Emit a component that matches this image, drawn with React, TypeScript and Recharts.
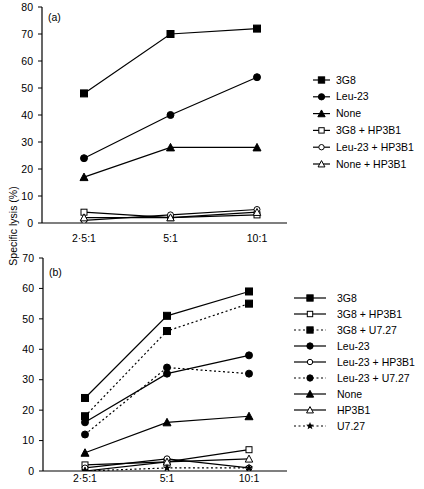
import React from 'react';
import { LineChart, Line, XAxis, YAxis } from 'recharts';

const categories = ['2·5:1', '5:1', '10:1'];

// panel (a)
const a3G8 = [48, 70, 72];
const aLeu23 = [24, 40, 54];
const aNone = [17, 28, 28];
const a3G8HP = [4, 2, 3];
const aLeu23HP = [1, 3, 5];
const aNoneHP = [2, 2, 4];
const ticksA = [0, 10, 20, 30, 40, 50, 60, 70, 80];

// panel (b)
const b3G8 = [24, 51, 59];
const b3G8HP = [2, 3, 7];
const b3G8U7 = [18, 46, 55];
const bLeu23 = [16, 32, 38];
const bLeu23HP = [1, 4, 1];
const bLeu23U7 = [12, 34, 32];
const bNone = [6, 16, 18];
const bHP = [0, 3, 4];
const bU7 = [0, 1, 1];
const ticksB = [0, 10, 20, 30, 40, 50, 60, 70];

type Shape = 'square' | 'circle' | 'triangle' | 'star';
type Series = { key: string; label: string; values: number[]; shape: Shape; filled: boolean; dashed?: boolean };

const seriesA: Series[] = [
  { key: 's1', label: '3G8', values: a3G8, shape: 'square', filled: true },
  { key: 's2', label: 'Leu-23', values: aLeu23, shape: 'circle', filled: true },
  { key: 's3', label: 'None', values: aNone, shape: 'triangle', filled: true },
  { key: 's4', label: '3G8 + HP3B1', values: a3G8HP, shape: 'square', filled: false },
  { key: 's5', label: 'Leu-23 + HP3B1', values: aLeu23HP, shape: 'circle', filled: false },
  { key: 's6', label: 'None + HP3B1', values: aNoneHP, shape: 'triangle', filled: false },
];

const seriesB: Series[] = [
  { key: 's1', label: '3G8', values: b3G8, shape: 'square', filled: true },
  { key: 's2', label: '3G8 + HP3B1', values: b3G8HP, shape: 'square', filled: false },
  { key: 's3', label: '3G8 + U7.27', values: b3G8U7, shape: 'square', filled: true, dashed: true },
  { key: 's4', label: 'Leu-23', values: bLeu23, shape: 'circle', filled: true },
  { key: 's5', label: 'Leu-23 + HP3B1', values: bLeu23HP, shape: 'circle', filled: false },
  { key: 's6', label: 'Leu-23 + U7.27', values: bLeu23U7, shape: 'circle', filled: true, dashed: true },
  { key: 's7', label: 'None', values: bNone, shape: 'triangle', filled: true },
  { key: 's8', label: 'HP3B1', values: bHP, shape: 'triangle', filled: false },
  { key: 's9', label: 'U7.27', values: bU7, shape: 'star', filled: true, dashed: true },
];

const toRows = (series: Series[]) =>
  categories.map((name, i) => {
    const row: Record<string, any> = { name };
    series.forEach((s) => (row[s.key] = s.values[i]));
    return row;
  });

const dataA = toRows(seriesA);
const dataB = toRows(seriesB);

const FONT = 'Arial, "Liberation Sans", Helvetica, sans-serif';
const tickStyle = { fontSize: 10.5, fill: '#000', fontFamily: FONT };

function Marker({ cx, cy, shape, filled, scale = 1 }: { cx: number; cy: number; shape: Shape; filled: boolean; scale?: number }) {
  if (cx == null || cy == null) return null;
  const fill = filled ? '#000' : '#fff';
  const s = (filled ? 7 : 6) * scale;
  if (shape === 'square') {
    return <rect x={cx - s / 2} y={cy - s / 2} width={s} height={s} fill={fill} stroke="#000" strokeWidth={1} />;
  }
  if (shape === 'circle') {
    return <circle cx={cx} cy={cy} r={s / 2} fill={fill} stroke="#000" strokeWidth={1} />;
  }
  if (shape === 'star') {
    const pts: string[] = [];
    for (let k = 0; k < 10; k++) {
      const r = (k % 2 === 0 ? 4.5 : 1.9) * scale;
      const ang = -Math.PI / 2 + (k * Math.PI) / 5;
      pts.push(`${cx + r * Math.cos(ang)},${cy + r * Math.sin(ang)}`);
    }
    return <polygon points={pts.join(' ')} fill="#000" />;
  }
  const h = (filled ? 7 : 6.5) * scale;
  return (
    <polygon
      points={`${cx},${cy - h / 2 - 0.5} ${cx - h / 2 - 0.5},${cy + h / 2} ${cx + h / 2 + 0.5},${cy + h / 2}`}
      fill={fill}
      stroke="#000"
      strokeWidth={1}
    />
  );
}

function renderLines(series: Series[]) {
  return series.map((s) => (
    <Line
      key={s.key}
      dataKey={s.key}
      stroke="#000"
      strokeWidth={1.2}
      strokeDasharray={s.dashed ? '2 2.5' : undefined}
      isAnimationActive={false}
      dot={(p: any) => <Marker key={`${s.key}-${p.index}`} cx={p.cx} cy={p.cy} shape={s.shape} filled={s.filled} />}
      activeDot={false}
    />
  ));
}

function LegendBlock({ series, x, y, step, lineLen, textGap }: { series: Series[]; x: number; y: number; step: number; lineLen: number; textGap: number }) {
  return (
    <g>
      {series.map((s, i) => {
        const cy = y + i * step;
        const mid = x + lineLen / 2;
        return (
          <g key={s.key}>
            <line x1={x} x2={x + lineLen} y1={cy} y2={cy} stroke="#000" strokeWidth={1.2} strokeDasharray={s.dashed ? '2 2.5' : undefined} />
            <Marker cx={mid} cy={cy} shape={s.shape} filled={s.filled} scale={0.9} />
            <text x={x + lineLen + textGap} y={cy} dy="0.35em" fontSize={10.5} fontFamily={FONT} fill="#000">
              {s.label}
            </text>
          </g>
        );
      })}
    </g>
  );
}

export default function App() {
  return (
    <div style={{ position: 'absolute', left: 0, top: 0, width: 424, height: 489, background: '#fff', fontFamily: FONT }}>
      <div style={{ position: 'absolute', left: 0, top: 0 }}>
        <LineChart width={300} height={245} data={dataA} margin={{ top: 7, right: 13, left: 0, bottom: 0 }}>
          <XAxis
            dataKey="name"
            height={22}
            padding={{ left: 42, right: 30 }}
            tickLine={false}
            tickSize={6}
            tickMargin={6}
            axisLine={{ stroke: '#000', strokeWidth: 1.2 }}
            tick={tickStyle}
            interval={0}
          />
          <YAxis
            width={42}
            domain={[0, 80]}
            ticks={ticksA}
            tickSize={4}
            tickMargin={5}
            axisLine={{ stroke: '#000', strokeWidth: 1.2 }}
            tickLine={{ stroke: '#000' }}
            tick={tickStyle}
            allowDataOverflow
          />
          {renderLines(seriesA)}
        </LineChart>
      </div>
      <div style={{ position: 'absolute', left: 0, top: 240 }}>
        <LineChart width={300} height={249} data={dataB} margin={{ top: 18, right: 13, left: 0, bottom: 0 }}>
          <XAxis
            dataKey="name"
            height={18}
            padding={{ left: 42, right: 38 }}
            tickLine={false}
            tickSize={2}
            tickMargin={2}
            axisLine={{ stroke: '#000', strokeWidth: 1.2 }}
            tick={tickStyle}
            interval={0}
          />
          <YAxis
            width={43}
            domain={[0, 70]}
            ticks={ticksB}
            tickSize={4}
            tickMargin={5}
            axisLine={{ stroke: '#000', strokeWidth: 1.2 }}
            tickLine={{ stroke: '#000' }}
            tick={tickStyle}
            allowDataOverflow
          />
          {renderLines(seriesB)}
        </LineChart>
      </div>
      <svg width={424} height={489} style={{ position: 'absolute', left: 0, top: 0, pointerEvents: 'none' }}>
        <text x={48} y={17} dy="0.35em" fontSize={10.5} fontFamily={FONT}>(a)</text>
        <text x={49} y={272} dy="0.35em" fontSize={10.5} fontFamily={FONT}>(b)</text>
        <text
          x={13}
          y={226}
          transform="rotate(-90 13 226)"
          textAnchor="middle"
          dy="0.35em"
          fontSize={10.5}
          fontFamily={FONT}
        >
          Specific lysis (%)
        </text>
        <LegendBlock series={seriesA} x={313} y={80} step={16.8} lineLen={17} textGap={6} />
        <LegendBlock series={seriesB} x={294} y={298} step={16} lineLen={32} textGap={11} />
      </svg>
    </div>
  );
}
